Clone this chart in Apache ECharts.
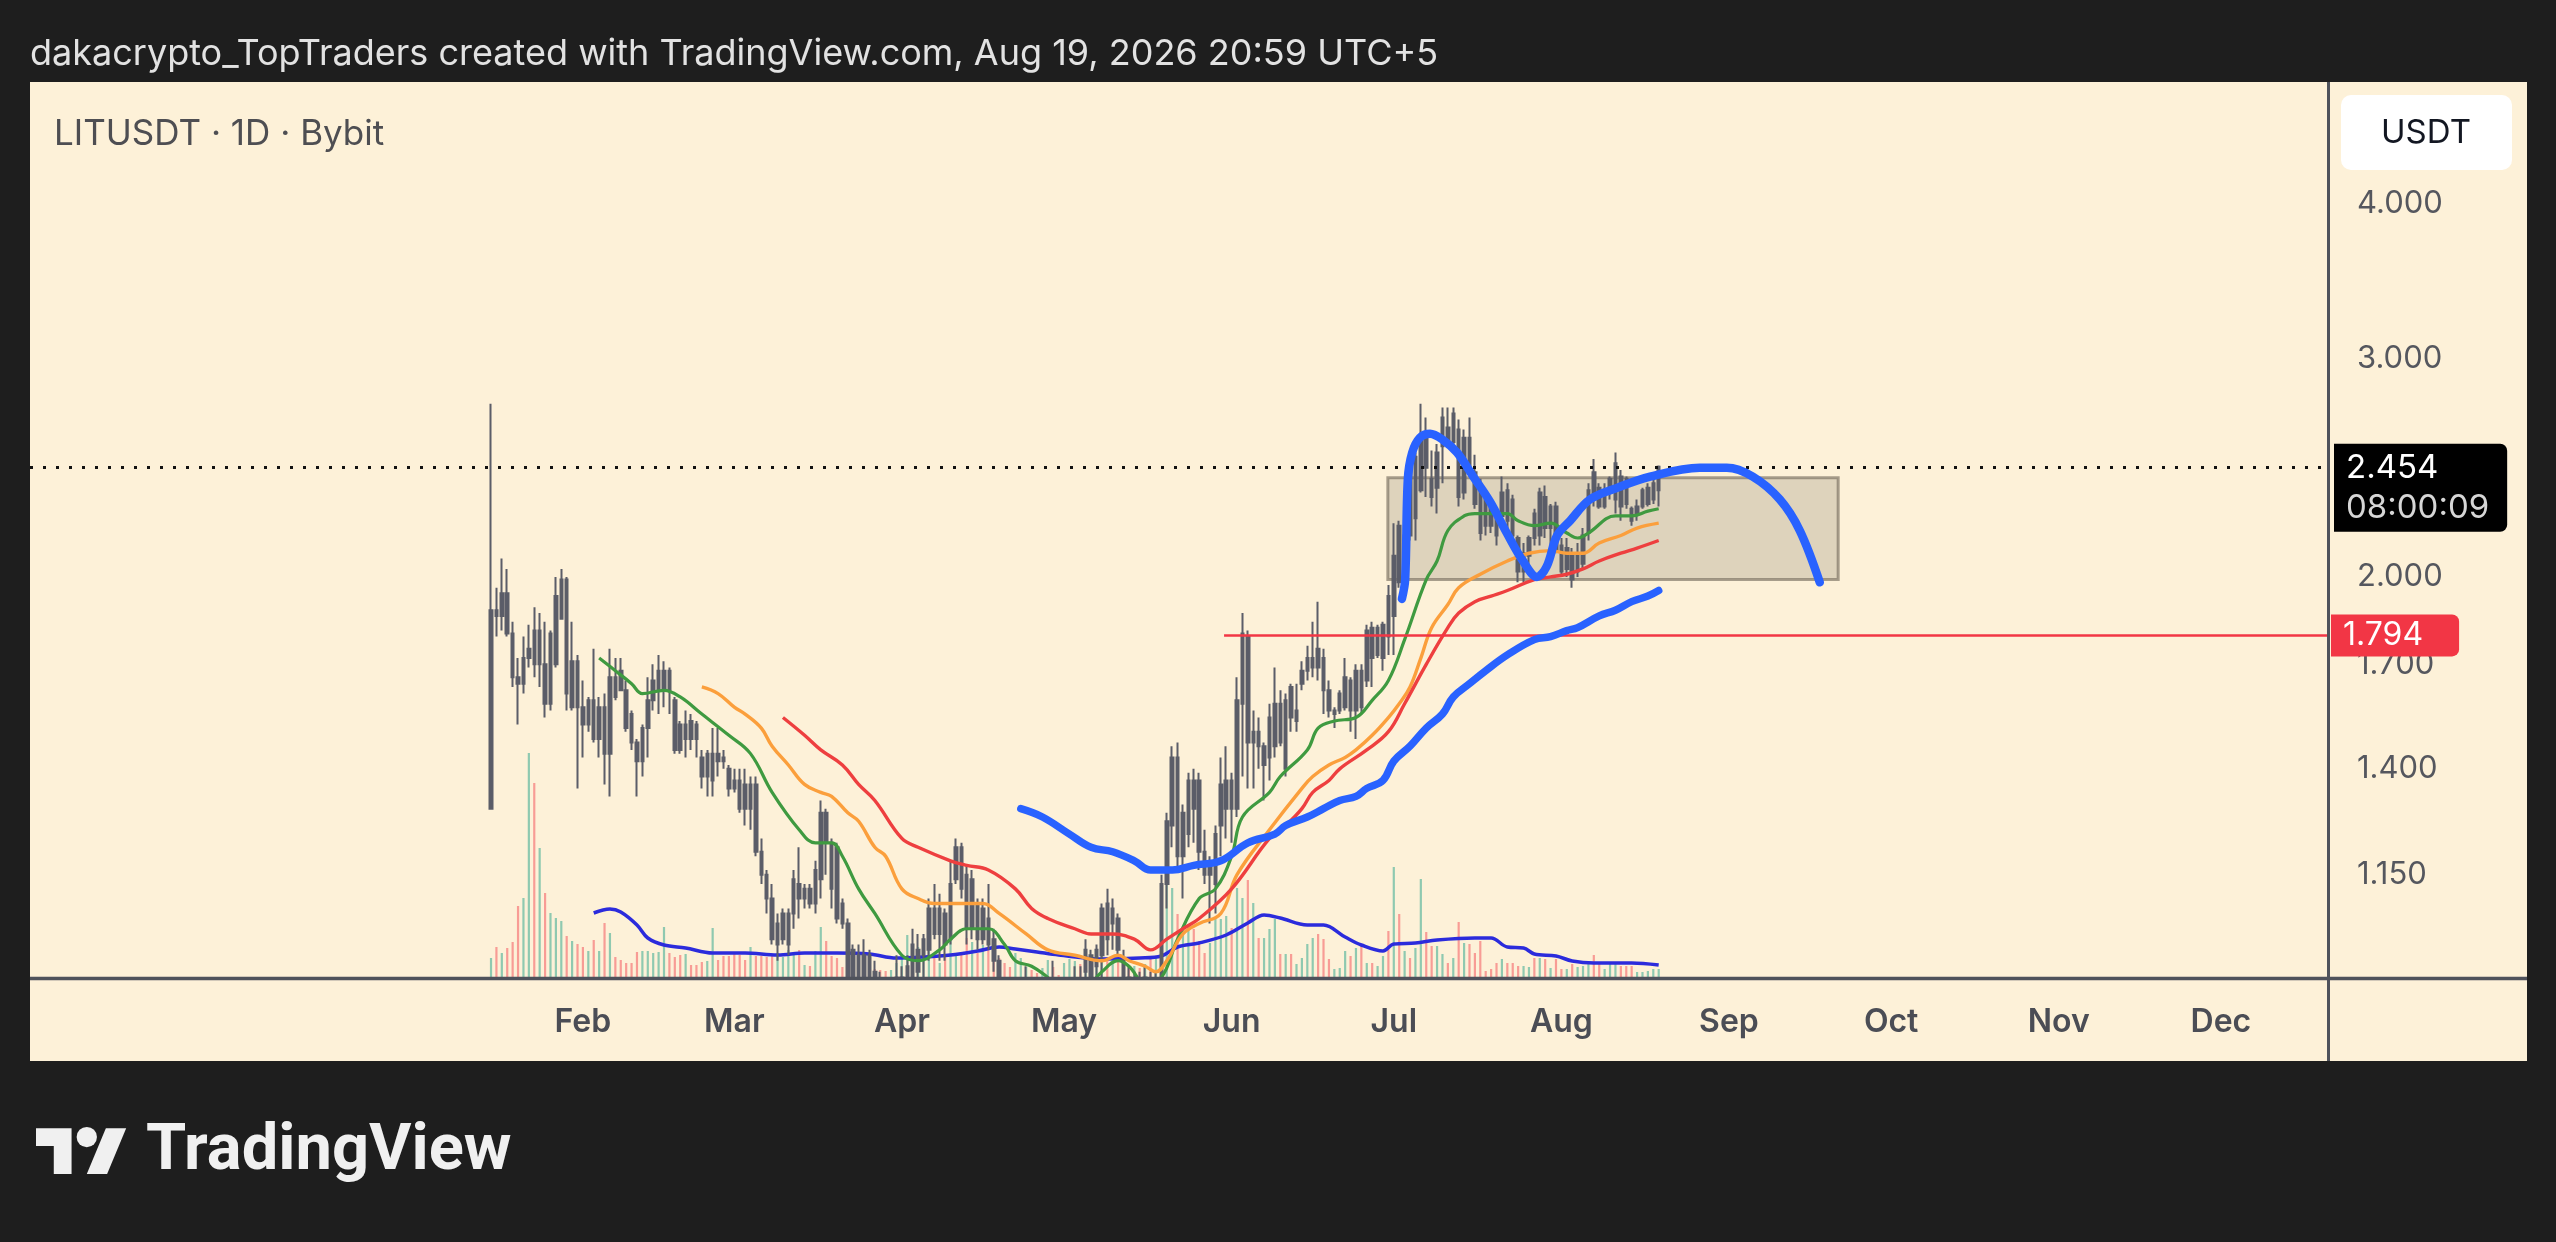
<!DOCTYPE html>
<html>
<head>
<meta charset="utf-8">
<script src="https://cdn.jsdelivr.net/npm/echarts@6/dist/echarts.min.js"></script>
<style>
html,body{margin:0;padding:0;background:#1e1e1e;overflow:hidden;}
#c{width:2556px;height:1242px;}
</style>
</head>
<body>
<div id="c"></div>
<script>
// ---------------- DATA ----------------
const startDate = '2026-01-15';          // day 0 of the candle arrays (daily candles)
const headerText = 'dakacrypto_TopTraders created with TradingView.com, Aug 19, 2026 20:59 UTC+5';
const symbolText = 'LITUSDT \u00b7 1D \u00b7 Bybit';
const currencyText = 'USDT';
const countdownText = '08:00:09';

const opens = [
1.30,1.88,1.86,1.94,1.80,1.66,1.64,1.72,1.81,1.70,
1.70,1.58,1.70,1.85,1.99,1.57,1.71,1.57,1.52,1.59,
1.48,1.57,1.44,1.66,1.68,1.62,1.55,1.47,1.42,1.51,
1.59,1.62,1.62,1.68,1.59,1.52,1.48,1.53,1.52,1.43,
1.38,1.37,1.44,1.43,1.40,1.37,1.37,1.36,1.30,1.36,
1.20,1.15,1.10,1.01,1.02,1.01,1.07,1.13,1.10,1.12,
1.09,1.14,1.29,1.22,1.21,1.09,1.05,1.00,0.95,0.95,
0.99,0.96,0.94,0.92,0.89,0.92,0.92,0.93,0.95,0.96,
0.99,1.00,1.08,1.03,1.07,1.02,1.14,1.21,1.15,1.04,
1.09,1.02,1.06,1.02,0.98,0.92,0.91,0.87,0.88,0.90,
0.92,0.91,0.87,0.88,0.93,0.92,0.88,0.89,0.90,0.94,
0.96,0.99,0.97,0.99,1.09,1.05,1.06,0.98,0.95,0.92,
0.94,0.92,0.94,0.91,0.94,1.13,1.26,1.43,1.19,1.24,
1.37,1.37,1.20,1.15,1.13,1.26,1.30,1.37,1.30,1.58,
1.79,1.47,1.50,1.41,1.43,1.46,1.58,1.40,1.63,1.53,
1.64,1.68,1.69,1.75,1.72,1.62,1.55,1.56,1.57,1.65,
1.56,1.68,1.65,1.82,1.73,1.72,1.93,1.86,2.20,2.04,
2.45,2.23,2.35,2.59,2.40,2.36,2.55,2.64,2.57,2.63,
2.34,2.59,2.43,2.35,2.31,2.28,2.24,2.24,2.35,2.31,
2.15,2.02,2.08,2.25,2.16,2.32,2.19,2.28,2.12,2.03,
2.08,2.02,2.05,2.17,2.43,2.36,2.28,2.34,2.31,2.41,
2.40,2.27,2.25,2.28,2.29,2.31,2.35];

const closes = [
1.88,1.86,1.94,1.80,1.66,1.64,1.72,1.75,1.70,1.81,
1.58,1.80,1.93,1.99,1.61,1.71,1.57,1.52,1.59,1.48,
1.57,1.44,1.66,1.60,1.62,1.51,1.47,1.42,1.51,1.59,
1.65,1.68,1.68,1.62,1.45,1.45,1.52,1.48,1.48,1.38,
1.44,1.44,1.42,1.42,1.35,1.35,1.30,1.30,1.36,1.20,
1.15,1.10,1.02,1.05,1.07,1.07,1.14,1.10,1.12,1.09,
1.16,1.29,1.22,1.12,1.06,1.05,0.95,0.94,0.99,0.99,
0.94,0.92,0.90,0.88,0.93,0.95,0.95,0.97,1.01,1.00,
1.02,1.08,1.03,1.08,1.01,1.13,1.21,1.12,1.04,1.14,
1.02,1.08,1.01,0.98,0.94,0.88,0.88,0.90,0.91,0.94,
0.89,0.88,0.90,0.91,0.90,0.89,0.91,0.92,0.93,0.90,
1.00,0.95,1.00,1.08,1.02,1.08,1.00,0.95,0.93,0.94,
0.92,0.95,0.91,0.94,1.13,1.27,1.43,1.19,1.29,1.37,
1.30,1.20,1.15,1.17,1.24,1.36,1.37,1.30,1.59,1.80,
1.47,1.50,1.46,1.46,1.54,1.58,1.47,1.59,1.54,1.56,
1.68,1.72,1.72,1.69,1.62,1.56,1.56,1.61,1.66,1.56,
1.68,1.57,1.81,1.72,1.82,1.83,1.79,2.08,1.98,2.16,
2.16,2.50,2.58,2.45,2.32,2.52,2.69,2.58,2.71,2.32,
2.59,2.45,2.29,2.17,2.20,2.20,2.16,2.34,2.22,2.16,
2.02,2.09,2.15,2.15,2.34,2.19,2.28,2.10,2.02,2.11,
1.99,2.09,2.16,2.35,2.31,2.28,2.35,2.40,2.47,2.28,
2.29,2.22,2.28,2.35,2.36,2.38,2.454];

const lows = [
1.30,1.79,1.81,1.79,1.63,1.52,1.61,1.69,1.66,1.63,
1.54,1.56,1.69,1.85,1.56,1.56,1.35,1.43,1.50,1.47,
1.43,1.36,1.33,1.59,1.62,1.50,1.45,1.33,1.38,1.43,
1.56,1.55,1.57,1.55,1.44,1.44,1.43,1.45,1.43,1.35,
1.33,1.33,1.38,1.40,1.33,1.34,1.29,1.26,1.25,1.19,
1.13,1.07,1.01,0.98,1.01,0.99,1.04,1.06,1.08,1.08,
1.07,1.10,1.15,1.08,1.05,1.04,0.93,0.92,0.93,0.93,
0.92,0.90,0.88,0.86,0.87,0.89,0.90,0.91,0.93,0.93,
0.94,0.98,1.02,0.98,0.98,1.01,1.13,1.10,1.01,1.02,
1.00,1.01,1.00,0.96,0.92,0.86,0.86,0.85,0.86,0.88,
0.87,0.86,0.85,0.86,0.88,0.87,0.86,0.87,0.88,0.88,
0.94,0.93,0.94,0.95,0.99,1.00,0.99,0.94,0.92,0.91,
0.91,0.91,0.90,0.90,0.92,1.08,1.21,1.16,1.10,1.21,
1.22,1.16,1.13,1.05,1.07,1.19,1.23,1.22,1.28,1.38,
1.35,1.35,1.40,1.32,1.37,1.43,1.46,1.38,1.50,1.50,
1.62,1.65,1.66,1.65,1.55,1.54,1.51,1.55,1.56,1.50,
1.48,1.55,1.63,1.63,1.72,1.68,1.73,1.73,1.96,1.99,
2.14,2.14,2.34,2.32,2.28,2.25,2.38,2.55,2.55,2.28,
2.31,2.44,2.27,2.14,2.16,2.17,2.12,2.22,2.16,2.15,
1.98,1.98,2.04,2.12,2.12,2.15,2.12,2.09,2.01,2.00,
1.96,2.00,2.03,2.14,2.28,2.27,2.27,2.31,2.25,2.22,
2.27,2.20,2.22,2.27,2.28,2.29,2.28];

const highs = [
2.76,1.96,2.07,2.03,1.84,1.72,1.79,1.83,1.89,1.87,
1.84,1.81,2.00,2.03,2.00,1.84,1.73,1.65,1.60,1.75,
1.60,1.61,1.75,1.72,1.72,1.65,1.56,1.48,1.52,1.66,
1.70,1.73,1.71,1.69,1.60,1.53,1.56,1.55,1.53,1.45,
1.45,1.51,1.51,1.45,1.41,1.40,1.40,1.40,1.38,1.38,
1.23,1.16,1.13,1.07,1.08,1.08,1.16,1.21,1.13,1.13,
1.18,1.32,1.30,1.23,1.22,1.10,1.06,1.01,1.01,1.02,
1.00,0.98,0.96,0.94,0.95,0.99,0.97,0.99,1.04,1.03,
1.03,1.10,1.13,1.11,1.08,1.18,1.23,1.22,1.17,1.16,
1.10,1.10,1.13,1.04,0.99,0.94,0.93,0.92,0.93,0.97,
0.94,0.93,0.92,0.94,0.98,0.94,0.93,0.94,0.97,0.97,
1.02,1.00,1.01,1.09,1.12,1.10,1.07,1.00,0.97,0.96,
0.96,0.97,0.96,0.96,1.15,1.29,1.46,1.47,1.31,1.39,
1.40,1.39,1.25,1.19,1.26,1.43,1.46,1.39,1.66,1.87,
1.81,1.56,1.54,1.47,1.58,1.69,1.62,1.61,1.64,1.64,
1.71,1.76,1.84,1.91,1.75,1.65,1.57,1.62,1.72,1.66,
1.70,1.70,1.83,1.84,1.83,1.84,1.97,2.21,2.22,2.21,
2.47,2.52,2.76,2.69,2.53,2.56,2.74,2.74,2.74,2.68,
2.63,2.69,2.51,2.40,2.34,2.31,2.25,2.41,2.38,2.33,
2.16,2.13,2.16,2.27,2.36,2.37,2.29,2.30,2.15,2.15,
2.11,2.13,2.19,2.38,2.49,2.38,2.38,2.41,2.52,2.44,
2.41,2.28,2.31,2.36,2.38,2.40,2.46];

// volume (relative units)
const volumes = [
20,31,25,30,36,72,80,225,195,130,
85,65,60,57,42,37,34,31,27,38,
27,55,45,21,18,15,15,26,27,27,
25,26,51,25,21,23,24,13,13,16,
17,50,18,22,22,25,23,18,31,22,
22,21,23,25,21,28,23,28,13,12,
27,51,37,22,20,11,20,16,18,11,
6,9,8,7,8,15,21,43,25,31,
36,40,20,15,21,41,25,25,40,36,
25,33,30,25,20,15,11,25,20,11,
8,5,10,18,11,3,15,19,17,14,
22,17,20,24,20,22,19,15,11,12,
10,14,19,22,90,99,90,64,49,52,
49,37,25,35,60,59,62,50,90,80,
98,75,40,40,49,59,24,24,24,14,
20,34,40,44,39,19,9,10,27,22,
30,34,15,15,12,22,47,111,64,27,
20,30,99,46,32,32,24,15,20,56,
35,34,25,37,7,9,15,19,15,15,
12,12,11,20,20,19,10,19,9,9,
14,11,12,16,23,14,9,14,14,12,
12,12,6,6,7,9,9];

// moving-average lines (day offset, value)
const maGreenDays = [20,23,26,28,32,35,39,44,48,52,57,60,63,65,68,71,76,79,83,85,88,92,95,97,100,103,107,110,113,116,118,121,124,127,131,134,137,139,144,146,151,153,156,160,163,166,169,173,175,177,180,182,185,188,190,193,196,199,201,203,208,211,214,216];
const maGreenVals = [1.72,1.68,1.64,1.61,1.62,1.60,1.55,1.49,1.44,1.34,1.25,1.22,1.22,1.19,1.12,1.07,0.99,0.98,1.00,1.02,1.04,1.04,1.01,0.98,0.97,0.95,0.92,0.93,0.96,0.98,0.97,0.94,0.95,1.02,1.10,1.12,1.19,1.28,1.34,1.38,1.45,1.51,1.53,1.54,1.59,1.65,1.78,1.99,2.06,2.18,2.24,2.25,2.25,2.25,2.22,2.20,2.21,2.17,2.15,2.17,2.24,2.24,2.26,2.27];

const maOrangeDays = [39,42,45,47,50,52,55,58,61,63,66,68,71,73,76,79,82,84,87,91,94,99,103,108,113,116,118,121,123,125,128,131,135,138,144,150,152,155,158,160,163,166,168,170,172,174,177,179,183,188,192,196,199,202,205,209,212,216];
const maOrangeVals = [1.63,1.61,1.57,1.55,1.51,1.46,1.41,1.36,1.34,1.33,1.29,1.27,1.21,1.19,1.12,1.10,1.09,1.09,1.09,1.09,1.07,1.03,1.00,0.99,0.98,0.99,0.98,0.97,0.96,0.98,1.03,1.05,1.07,1.15,1.25,1.35,1.38,1.41,1.43,1.45,1.49,1.54,1.58,1.63,1.72,1.82,1.90,1.96,2.01,2.06,2.09,2.10,2.09,2.09,2.13,2.16,2.19,2.21];

const maRedDays = [54,58,61,65,68,71,76,79,85,88,92,97,100,103,108,111,115,119,122,125,128,131,137,144,147,150,152,155,157,162,166,169,173,177,179,182,185,188,193,196,199,202,205,209,212,216];
const maRedVals = [1.54,1.49,1.45,1.41,1.36,1.32,1.23,1.21,1.18,1.17,1.16,1.12,1.08,1.06,1.04,1.03,1.03,1.02,1.00,1.02,1.04,1.06,1.12,1.23,1.26,1.30,1.34,1.37,1.40,1.45,1.50,1.58,1.70,1.82,1.87,1.91,1.93,1.95,1.99,2.00,2.01,2.03,2.06,2.09,2.11,2.14];

const maBlueDays = [98,102,107,111,115,119,122,124,126,130,135,140,145,147,151,154,157,160,162,165,167,170,173,176,178,181,184,188,193,196,199,201,205,208,211,214,216];
const maBlueVals = [1.30,1.28,1.24,1.21,1.20,1.18,1.16,1.16,1.16,1.17,1.18,1.22,1.24,1.26,1.28,1.30,1.32,1.33,1.35,1.37,1.42,1.46,1.51,1.55,1.60,1.64,1.68,1.73,1.78,1.79,1.81,1.82,1.86,1.88,1.91,1.93,1.95];

const volMaDays = [19,22,24,27,29,32,36,41,47,53,58,64,70,75,80,85,90,94,97,101,105,113,120,124,127,131,136,140,143,146,151,154,158,161,165,167,171,175,182,185,188,191,193,197,200,204,211,216];
const volMaVals = [65,69,66,53,40,33,30,25,25,23,25,25,24,20,21,23,27,31,29,26,23,19,20,22,31,35,43,55,63,60,53,53,41,33,27,34,35,38,40,40,31,30,24,22,17,15,15,13];

// hand-drawn projection curve (day offset, price)
const drawDays = [168.5,169.1,169.6,170.4,171.8,173.7,176.1,178.7,181.7,184.8,187.9,190.9,193.5,195.3,197.2,199.6,203.3,208.3,214.4,223.6,228.6,233.4,238.4,242.1,245.8];
const drawPrices = [1.92,1.99,2.40,2.52,2.59,2.61,2.58,2.52,2.41,2.30,2.17,2.06,2.00,2.04,2.16,2.22,2.31,2.36,2.41,2.45,2.45,2.41,2.31,2.18,1.98];

// range box and horizontal level
const boxStartDay = 165.9, boxEndDay = 249.2, boxLow = 1.99, boxHigh = 2.405;
const levelStartDay = 135.6, levelPrice = 1.794;

// axes
const viewStartDay = -85.28, viewEndDay = 339.81;
const priceMin = 0.949, priceMax = 5.018;
const priceTicks = [1.15, 1.4, 1.7, 2, 3, 4];
const monthStarts = ['2026-02-01','2026-03-01','2026-04-01','2026-05-01','2026-06-01','2026-07-01','2026-08-01','2026-09-01','2026-10-01','2026-11-01','2026-12-01'];
const monthNames = ['Feb','Mar','Apr','May','Jun','Jul','Aug','Sep','Oct','Nov','Dec'];
const volumeAxisMax = 896;

// ---------------- CHART ----------------
const F = 'Inter, Roboto, "Noto Sans", sans-serif';
const DARK = '#1e1e1e';
const PANEL = '#fdf1d8';
const dayOf = s => (Date.parse(s) - Date.parse(startDate)) / 86400000;
const monthDays = monthStarts.map(dayOf);
const lastClose = closes[closes.length - 1];
const pairs = (xs, ys) => xs.map((x, k) => [x, ys[k]]);

const chart = echarts.init(document.getElementById('c'), null, {renderer: 'canvas', width: 2556, height: 1242});

const candleColor = '#5b5d68';
const option = {
  animation: false,
  backgroundColor: PANEL,
  grid: {left: 30, right: 228, top: 82, bottom: 264},
  xAxis: {
    type: 'value', min: viewStartDay, max: viewEndDay, z: 120,
    axisLine: {show: false}, axisTick: {show: false}, splitLine: {show: false},
    axisLabel: {
      customValues: monthDays,
      formatter: v => { const k = monthDays.indexOf(v); return k >= 0 ? monthNames[k] : ''; },
      margin: 28, fontSize: 32, fontWeight: 600, color: '#4b4d55', fontFamily: F
    }
  },
  yAxis: [{
    type: 'log', logBase: 10, min: priceMin, max: priceMax, position: 'right',
    axisLine: {show: false}, axisTick: {show: false}, splitLine: {show: false},
    axisLabel: {customValues: priceTicks, formatter: v => Number(v).toFixed(3), margin: 29, fontSize: 31, color: '#55575e', fontFamily: F}
  }, {
    type: 'value', min: 0, max: volumeAxisMax, show: false
  }],
  series: [
    {
      type: 'bar', name: 'Volume', yAxisIndex: 1, barWidth: 2.2, silent: true, z: 1,
      data: volumes.map((v, i) => ({
        value: [i, v],
        itemStyle: {color: closes[i] >= opens[i] ? 'rgba(8,153,129,0.45)' : 'rgba(242,54,69,0.45)'}
      }))
    },
    {
      type: 'line', name: 'Vol MA', yAxisIndex: 1, showSymbol: false, smooth: 0.35, silent: true, z: 2,
      lineStyle: {color: '#2b2bdc', width: 3.5},
      data: pairs(volMaDays, volMaVals)
    },
    {
      type: 'candlestick', name: 'LITUSDT', yAxisIndex: 0, barWidth: 3, z: 3, clip: true,
      encode: {x: 0, y: [1, 2, 3, 4]},
      itemStyle: {color: candleColor, color0: candleColor, borderColor: candleColor, borderColor0: candleColor, borderWidth: 2},
      data: opens.map((o, i) => [i, o, closes[i], lows[i], highs[i]]),
      markArea: {
        silent: true,
        itemStyle: {color: 'rgba(125,115,100,0.24)', borderColor: 'rgba(115,105,90,0.62)', borderWidth: 3},
        data: [[{coord: [boxStartDay, boxLow]}, {coord: [boxEndDay, boxHigh]}]]
      },
      markLine: {
        silent: true, symbol: ['none', 'none'], animation: false,
        data: [
          [{
            coord: [levelStartDay, levelPrice],
            lineStyle: {color: '#f23645', width: 2.5, type: 'solid'},
            label: {
              show: true, position: 'end', distance: 3, formatter: levelPrice.toFixed(3),
              color: '#ffffff', backgroundColor: '#f23645', padding: [6, 36, 4, 12],
              borderRadius: [0, 7, 7, 0], fontSize: 32, fontFamily: F
            }
          }, {coord: [viewEndDay, levelPrice]}],
          {
            yAxis: lastClose,
            lineStyle: {color: '#111111', width: 3, type: [3, 10]},
            label: {
              show: true, position: 'end', distance: 6,
              formatter: '{a|' + lastClose.toFixed(3) + '}\n{b|' + countdownText + '}',
              backgroundColor: '#000000', padding: [4, 18, 4, 12], borderRadius: [0, 7, 7, 0],
              offset: [0, 20],
              rich: {
                a: {color: '#ffffff', fontSize: 33, lineHeight: 40, fontFamily: F},
                b: {color: '#d6d6d6', fontSize: 33, lineHeight: 40, fontFamily: F}
              }
            }
          }
        ]
      }
    },
    {type: 'line', name: 'MA21', showSymbol: false, smooth: 0.4, silent: true, z: 4, lineStyle: {color: '#3f9a40', width: 3.2}, data: pairs(maGreenDays, maGreenVals)},
    {type: 'line', name: 'MA40', showSymbol: false, smooth: 0.4, silent: true, z: 4, lineStyle: {color: '#fb9f3c', width: 3.4}, data: pairs(maOrangeDays, maOrangeVals)},
    {type: 'line', name: 'MA55', showSymbol: false, smooth: 0.4, silent: true, z: 4, lineStyle: {color: '#ee3f3f', width: 3.4}, data: pairs(maRedDays, maRedVals)},
    {type: 'line', name: 'MA100', showSymbol: false, smooth: 0.4, silent: true, z: 5, lineStyle: {color: '#2962ff', width: 7.5, cap: 'round'}, data: pairs(maBlueDays, maBlueVals)},
    {type: 'line', name: 'Projection', showSymbol: false, smooth: 0.35, silent: true, z: 6, lineStyle: {color: '#2962ff', width: 8.5, cap: 'round', join: 'round'}, data: pairs(drawDays, drawPrices)}
  ],
  graphic: [
    // time-scale strip (hides parts of candles that fall below the pane)
    {type: 'rect', silent: true, z: 95, shape: {x: 30, y: 980, width: 2497, height: 81}, style: {fill: PANEL}},
    // dark frame around the chart panel
    {type: 'rect', silent: true, z: 100, shape: {x: 0, y: 0, width: 2556, height: 82}, style: {fill: DARK}},
    {type: 'rect', silent: true, z: 100, shape: {x: 0, y: 1061, width: 2556, height: 181}, style: {fill: DARK}},
    {type: 'rect', silent: true, z: 100, shape: {x: 0, y: 82, width: 30, height: 979}, style: {fill: DARK}},
    {type: 'rect', silent: true, z: 100, shape: {x: 2527, y: 82, width: 29, height: 979}, style: {fill: DARK}},
    // pane separators
    {type: 'line', silent: true, z: 98, shape: {x1: 2328.5, y1: 82, x2: 2328.5, y2: 1061}, style: {stroke: '#4f525b', lineWidth: 3}},
    {type: 'line', silent: true, z: 98, shape: {x1: 30, y1: 978.5, x2: 2527, y2: 978.5}, style: {stroke: '#4f525b', lineWidth: 3.5}},
    // header
    {type: 'text', silent: true, z: 110, x: 30, y: 54, style: {text: headerText, fill: '#e2e2e2', fontSize: 36, fontFamily: F, align: 'left', verticalAlign: 'middle'}},
    // symbol legend
    {type: 'text', silent: true, z: 110, x: 54, y: 134, style: {text: symbolText, fill: '#4e4e52', fontSize: 35, fontFamily: F, align: 'left', verticalAlign: 'middle'}},
    // currency badge
    {type: 'rect', silent: true, z: 110, shape: {x: 2341, y: 95, width: 171, height: 75, r: 10}, style: {fill: '#ffffff'}},
    {type: 'text', silent: true, z: 111, x: 2426, y: 133, style: {text: currencyText, fill: '#131722', fontSize: 33, fontFamily: F, align: 'center', verticalAlign: 'middle'}},
    // TradingView logo
    {type: 'group', silent: true, z: 110, x: 36, y: 1118, scaleX: 2.54, scaleY: 2.54, children: [
      {type: 'polygon', z: 115, shape: {points: [[0, 4], [14, 4], [14, 22], [7, 22], [7, 11], [0, 11]]}, style: {fill: '#f0f0f0'}},
      {type: 'circle', z: 115, shape: {cx: 20, cy: 7.5, r: 4}, style: {fill: '#f0f0f0'}},
      {type: 'polygon', z: 115, shape: {points: [[20, 22], [27.5, 4], [35.5, 4], [28, 22]]}, style: {fill: '#f0f0f0'}}
    ]},
    {type: 'text', silent: true, z: 110, x: 146, y: 1153, style: {text: 'TradingView', fill: '#f0f0f0', fontSize: 65, fontWeight: 'bold', fontFamily: 'Roboto, Inter, sans-serif', align: 'left', verticalAlign: 'middle'}}
  ]
};
chart.setOption(option);
</script>
</body>
</html>
